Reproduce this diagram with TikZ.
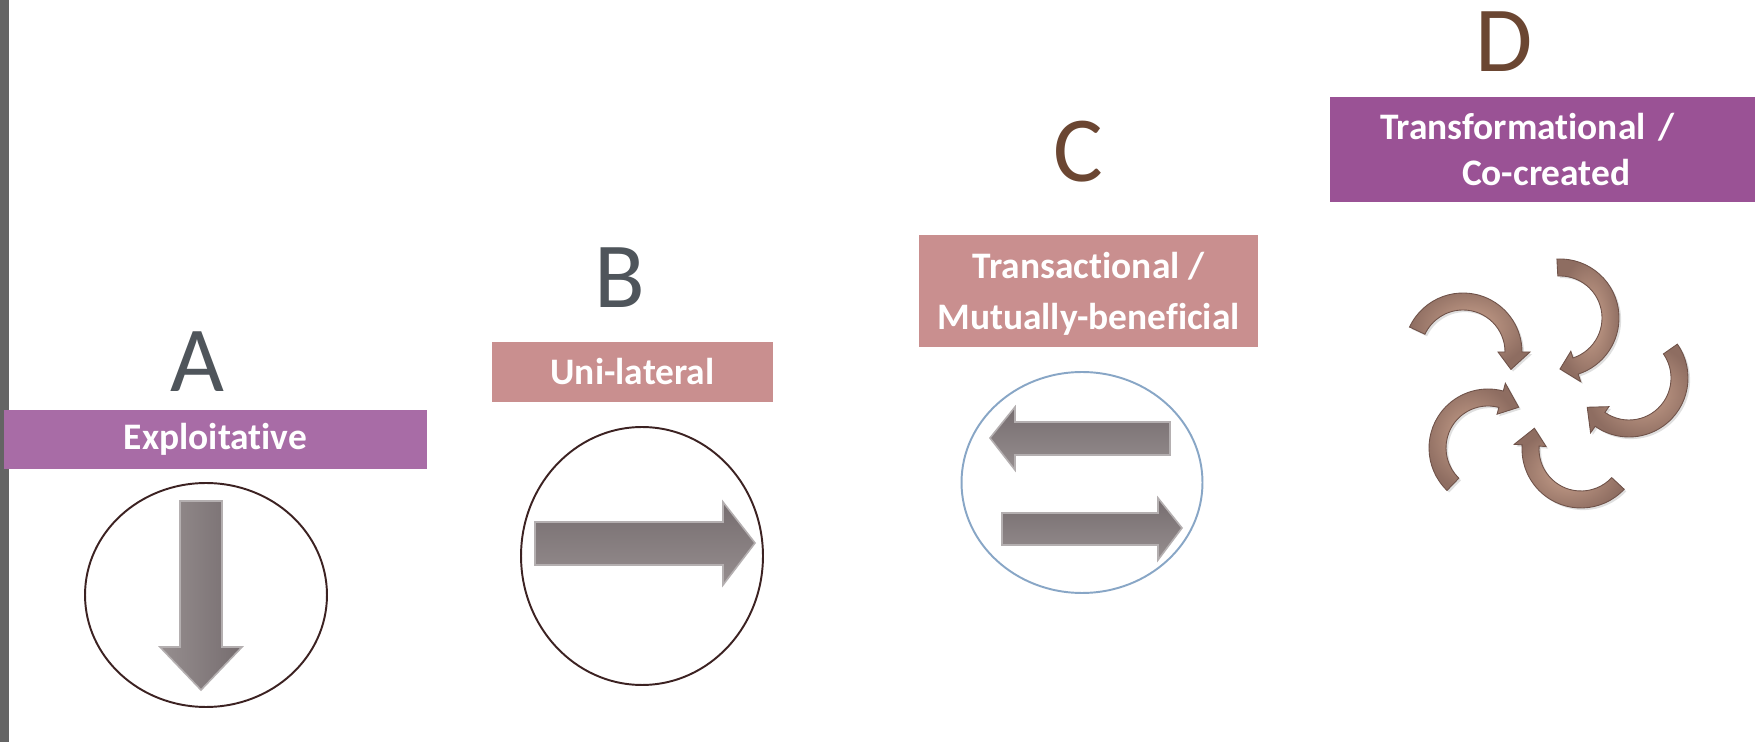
\documentclass[tikz,border=0pt]{standalone}
\usepackage{fontspec}
\setmainfont{Carlito}[Ligatures=NoCommon]
\usetikzlibrary{positioning,calc,shapes.geometric,shadows}

\definecolor{barGrey}{HTML}{646464}
\definecolor{plumLight}{HTML}{A86CA6}
\definecolor{plumDark}{HTML}{9A5295}
\definecolor{rose}{HTML}{C98F8F}
\definecolor{slate}{HTML}{4F555B}
\definecolor{cocoa}{HTML}{6B4632}
\definecolor{ringDark}{HTML}{3C2222}
\definecolor{ringBlue}{HTML}{88A6C6}
\definecolor{greyLight}{HTML}{968E8F}
\definecolor{greyDark}{HTML}{766D6F}
\definecolor{tanLight}{HTML}{CCA48F}
\definecolor{tanDark}{HTML}{8E6D61}
\definecolor{tanEdge}{HTML}{6F5249}

\tikzset{letter/.style={inner sep=0pt, text depth=0pt, font=\fontsize{53}{53}\selectfont}}
\tikzset{labelbox/.style={inner sep=0pt, text=white, align=center,
                          font=\bfseries\fontsize{21.3}{26.6}\selectfont}}
\tikzset{ring/.style={ellipse, draw, line width=1.1pt, inner sep=0pt}}
\tikzset{greyarrow/.style={draw=greyDark!55, line width=0.9pt}}
\tikzset{tanarrow/.style={draw=tanEdge, line width=0.5pt, inner color=tanLight, outer color=tanDark,
                          drop shadow={opacity=0.25, shadow xshift=1.2pt, shadow yshift=-1.2pt}}}

% curved arrow: centre x, centre y, tail angle, head base angle, tip angle
\newcommand{\swirl}[5]{%
  \draw[tanarrow] (#1,#2) ++(#3:59) arc[start angle=#3, end angle=#4, radius=59]
     -- ($(#1,#2)+(#4:67)$) -- ($(#1,#2)+(#5:51)$) -- ($(#1,#2)+(#4:35)$)
     -- ($(#1,#2)+(#4:42)$) arc[start angle=#4, end angle=#3, radius=42] -- cycle;}

\begin{document}
\begin{tikzpicture}[x=0.02cm,y=-0.02cm]
   \useasboundingbox[fill=white] (0,0) rectangle (1755,742);
   \fill[barGrey] (0,0) rectangle (8.5,742);

   % label boxes
   \node[labelbox, fill=plumLight, minimum width=8.46cm, minimum height=1.18cm] (exploit) at (215.5,439.5) {Exploitative};
   \node[labelbox, fill=rose, minimum width=5.62cm, minimum height=1.2cm] (unilat) at (632.5,372) {Uni-lateral};
   \node[labelbox, fill=rose, minimum width=6.78cm, minimum height=2.24cm, text depth=0pt,
         font=\bfseries\fontsize{21.3}{29.3}\selectfont] (transact) at (1088.5,291)
      {Transactional /\\Mutually-beneficial};
   \node[labelbox, fill=plumDark, minimum height=2.1cm, text width=6.5cm, inner xsep=1cm, align=left] (transform) at (1542.5,149.5)
      {Transformational /\\\hspace*{1.64cm}Co-created};

   % letters
   \node[letter, text=slate] (lA) [above=0.36cm of exploit, xshift=-0.37cm] {A};
   \node[letter, text=slate] (lB) [above=0.68cm of unilat, xshift=-0.25cm] {B};
   \node[letter, text=cocoa] (lC) [above=1.06cm of transact, xshift=-0.21cm] {C};
   \node[letter, text=cocoa] (lD) [above=0.5cm of transform, xshift=-0.77cm] {D};

   % circles
   \node[ring, draw=ringDark, minimum width=4.84cm, minimum height=4.48cm] (ringA) at (206,595) {};
   \node[ring, draw=ringDark, minimum width=4.84cm, minimum height=5.16cm] (ringB) at (642,556) {};
   \node[ring, draw=ringBlue, minimum width=4.82cm, minimum height=4.42cm] (ringC) at (1082,482.5) {};

   % block arrows
   \draw[greyarrow, left color=greyLight, right color=greyDark]
      (180,501) -- (222,501) -- (222,647) -- (242,647) -- (201,690) -- (160,647) -- (180,647) -- cycle;
   \draw[greyarrow, top color=greyDark, bottom color=greyLight]
      (535,522) -- (723,522) -- (723,502) -- (755,543) -- (723,585) -- (723,565) -- (535,565) -- cycle;
   \draw[greyarrow, top color=greyDark, bottom color=greyLight]
      (1170,422) -- (1015,422) -- (1015,407) -- (990,438) -- (1015,470) -- (1015,455) -- (1170,455) -- cycle;
   \draw[greyarrow, top color=greyDark, bottom color=greyLight]
      (1002,513) -- (1158,513) -- (1158,498) -- (1182,528) -- (1158,560) -- (1158,545) -- (1002,545) -- cycle;

   % pinwheel
   \swirl{1463}{352}{-155}{0}{20}
   \swirl{1560}{318}{-93}{72}{90}
   \swirl{1629}{378}{-35}{125}{145}
   \swirl{1581}{449}{43}{184}{204}
   \swirl{1488}{448}{134}{285}{307}
\end{tikzpicture}
\end{document}
